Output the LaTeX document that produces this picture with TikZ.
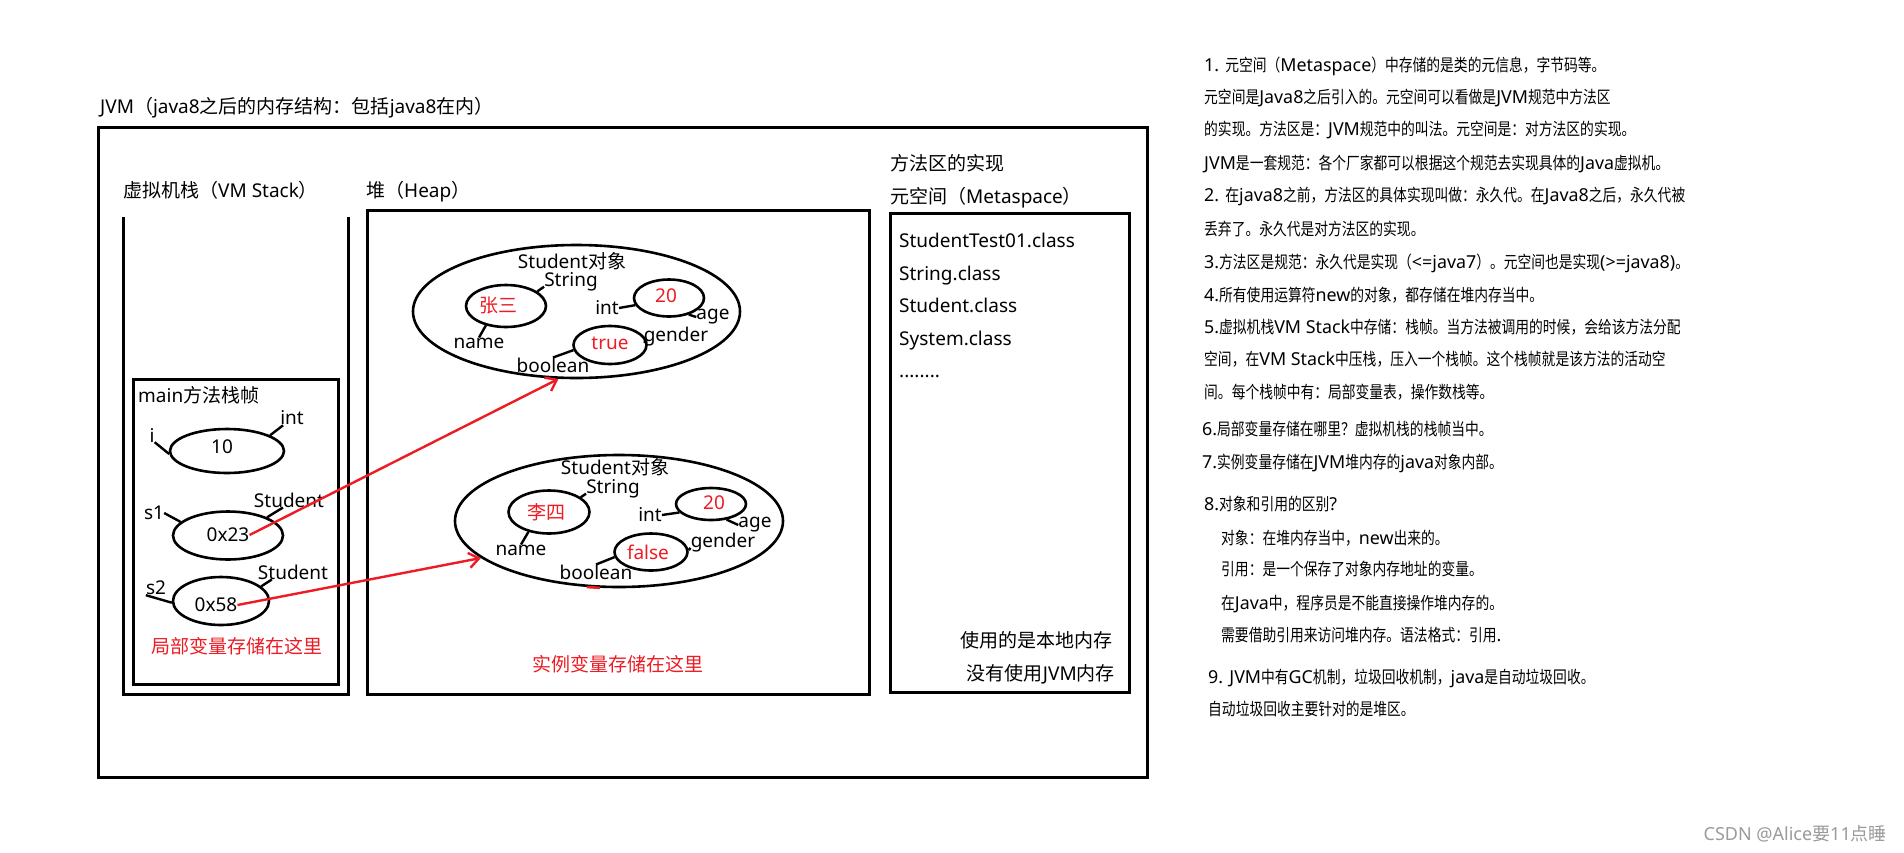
\documentclass[tikz,border=0pt]{standalone}
\usepackage{fontspec}
\setmainfont{Noto Sans}
\newfontfamily\latN{Noto Sans}
\newfontfamily\cjkN{Noto Sans CJK SC}
\newfontfamily\latR[Scale=1.05]{Noto Sans}
\newfontfamily\cjkR[FakeStretch=0.81]{Noto Sans CJK SC}
\def\curcjk{\cjkN}
\def\curlat{\latN}
\XeTeXinterchartokenstate=1
\newXeTeXintercharclass\CJKcls
\newcount\cjkcnt
\cjkcnt="3000
\loop\XeTeXcharclass\cjkcnt=\CJKcls\ifnum\cjkcnt<"303F\advance\cjkcnt by 1\repeat
\cjkcnt="4E00
\loop\XeTeXcharclass\cjkcnt=\CJKcls\ifnum\cjkcnt<"9FFF\advance\cjkcnt by 1\repeat
\cjkcnt="FF00
\loop\XeTeXcharclass\cjkcnt=\CJKcls\ifnum\cjkcnt<"FFEF\advance\cjkcnt by 1\repeat
\XeTeXinterchartoks 0 \CJKcls = {\curcjk}
\XeTeXinterchartoks 4095 \CJKcls = {\curcjk}
\XeTeXinterchartoks \CJKcls 0 = {\curlat}
\XeTeXinterchartoks 4095 0 = {\curlat}
\usetikzlibrary{shapes.geometric,arrows.meta}
\definecolor{pred}{RGB}{237,28,36}
\definecolor{wmgray}{RGB}{155,155,155}
\begin{document}
\begin{tikzpicture}[x=1pt,y=-1pt,
  lbl/.style={inner sep=0pt, font=\fontsize{19}{22}\selectfont},
  rlbl/.style={lbl, text=pred},
  frame/.style={draw, line width=3pt, inner sep=0pt},
  oval/.style={draw, ellipse, line width=2.6pt, inner sep=0pt},
  tick/.style={line width=2.4pt},
  ref/.style={draw=pred, line width=2.4pt, -{Straight Barb[length=10pt,width=15pt]}},
  note/.style={inner sep=0pt, anchor=base west, font={\fontsize{17}{20}\selectfont\def\curcjk{\cjkR}\def\curlat{\latR}\latR}},
]
\useasboundingbox[fill=white] (0,0) rectangle (1904,852);

% title
\node[lbl, anchor=base west] (title) at (100,113) {JVM（java8之后的内存结构：包括java8在内）};

% frames
\node[frame, minimum width=1049pt, minimum height=650pt] (jvm) at (622.5,452) {};
\draw[line width=3pt] (123,217) -- (123,694) -- (348,694) -- (348,217);
\node[frame, minimum width=205pt, minimum height=305pt] (mainf) at (235.5,531.5) {};
\node[frame, minimum width=502pt, minimum height=484pt] (heap) at (618,452) {};
\node[frame, minimum width=239pt, minimum height=479pt] (meta) at (1009.5,452.5) {};

\node[lbl, anchor=base west] (vmslbl) at (123,197) {虚拟机栈（VM Stack）};
\node[lbl, anchor=base west] (heaplbl) at (366,197) {堆（Heap）};
\node[lbl, anchor=west] (mainlbl) at (138,395) {main方法栈帧};

% stack variables
\node[oval, minimum width=114pt, minimum height=44pt] (ei) at (227,451) {};
\node[lbl] (v10) at (222,447) {10};
\node[lbl] (li) at (152,435) {i};
\node[lbl] (lint) at (292,418) {int};
\draw[tick] (li.south east) -- (ei.183);
\draw[tick] ([xshift=3pt]lint.south west) -- (ei.20);

\node[oval, minimum width=110pt, minimum height=48pt] (e1) at (228,535.5) {};
\node[lbl] (v23) at (228,535) {0x23};
\node[lbl] (ls1) at (154,513) {s1};
\node[lbl] (ls1t) at (289,500) {Student};
\draw[tick] (ls1.east) -- (e1.164);
\draw[tick] ([xshift=-6pt]ls1t.south) -- (e1.25);

\node[oval, minimum width=96pt, minimum height=48pt] (e2) at (221,601) {};
\node[lbl] (v58) at (216,605) {0x58};
\node[lbl] (ls2) at (156,588) {s2};
\node[lbl] (ls2t) at (293,572) {Student};
\draw[tick] (ls2.south west) -- (e2.182);
\draw[tick] ([xshift=14pt]ls2t.south west) -- (e2.20);

\node[rlbl] (loc) at (237,646) {局部变量存储在这里};

% heap object 1
\node[oval, minimum width=327pt, minimum height=133pt] (h1) at (576.5,311.5) {};
\node[lbl] (so1) at (572,261) {Student对象};
\node[lbl] (str1) at (571,282) {String};
\node[oval, minimum width=80pt, minimum height=42pt] (z1) at (506,306) {};
\node[rlbl] (vz1) at (498,306) {张三};
\node[lbl] (nm1) at (479,343) {name};
\node[oval, minimum width=70pt, minimum height=37pt] (t1) at (669,298) {};
\node[rlbl] (vt1) at (666,296) {20};
\node[lbl] (in1) at (607,308) {int};
\node[lbl] (ag1) at (713,317) {age};
\node[oval, minimum width=73pt, minimum height=38pt] (b1) at (610,345) {};
\node[rlbl] (vb1) at (610,343) {true};
\node[lbl] (gd1) at (676,337) {gender};
\node[lbl] (bo1) at (553,365) {boolean};
\draw[tick] (z1.25) -- (str1.base west);
\draw[tick] (nm1.north) -- (z1.-136);
\draw[tick] (in1.east) -- (t1.192);
\draw[tick] (ag1.west) -- (t1.-40);
\draw[tick] (gd1.base west) -- (b1.5);
\draw[tick] (bo1.north) -- (b1.188);

% heap object 2
\node[oval, minimum width=328pt, minimum height=132pt] (h2) at (619,521) {};
\node[lbl] (so2) at (615,467) {Student对象};
\node[lbl] (str2) at (613,489) {String};
\node[oval, minimum width=81pt, minimum height=43pt] (z2) at (549,512) {};
\node[rlbl] (vz2) at (546,512) {李四};
\node[lbl] (nm2) at (521,550) {name};
\node[oval, minimum width=70pt, minimum height=32pt] (t2) at (711,504) {};
\node[rlbl] (vt2) at (714,503) {20};
\node[lbl] (in2) at (650,515) {int};
\node[lbl] (ag2) at (755,525) {age};
\node[oval, minimum width=73pt, minimum height=37pt] (f2) at (651,552) {};
\node[rlbl] (vf2) at (648,552) {false};
\node[lbl] (gd2) at (723,543) {gender};
\node[lbl] (bo2) at (596,572) {boolean};
\draw[tick] (z2.25) -- (str2.base west);
\draw[tick] (nm2.north) -- (z2.-136);
\draw[tick] (in2.east) -- (t2.195);
\draw[tick] (ag2.west) -- (t2.-45);
\draw[tick] (gd2.base west) -- (f2.3);
\draw[tick] (bo2.north) -- (f2.188);
\draw[draw=pred, line width=2.6pt] (h2.-116) -- (h2.-106);

\node[rlbl] (inst) at (618,664) {实例变量存储在这里};

% metaspace
\node[lbl, anchor=base west] (ms0) at (890,170) {方法区的实现};
\node[lbl, anchor=base west] (ms1) at (890,203) {元空间（Metaspace）};
\node[lbl, anchor=base west] (c1) at (899,247.5) {StudentTest01.class};
\node[lbl, anchor=base west] (c2) at (899,280) {String.class};
\node[lbl, anchor=base west] (c3) at (899,312.5) {Student.class};
\node[lbl, anchor=base west] (c4) at (899,345) {System.class};
\node[lbl, anchor=base west] (c5) at (899,377.5) {........};
\node[lbl, anchor=base east] (m1) at (1113,647) {使用的是本地内存};
\node[lbl, anchor=base east] (m2) at (1115,680) {没有使用JVM内存};

% references
\draw[ref] (v23.east) -- (h1.-105);
\draw[ref] (v58.east) -- (h2.195);

% notes
\node[note] (r1) at (1204,71) {1. 元空间（Metaspace）中存储的是类的元信息，字节码等。};
\node[note] (r2) at (1204,103) {元空间是Java8之后引入的。元空间可以看做是JVM规范中方法区};
\node[note] (r3) at (1204,135) {的实现。方法区是：JVM规范中的叫法。元空间是：对方法区的实现。};
\node[note] (r4) at (1204,169) {JVM是一套规范：各个厂家都可以根据这个规范去实现具体的Java虚拟机。};
\node[note] (r5) at (1204,201) {2. 在java8之前，方法区的具体实现叫做：永久代。在Java8之后，永久代被};
\node[note] (r6) at (1204,235) {丢弃了。永久代是对方法区的实现。};
\node[note] (r7) at (1204,268) {3.方法区是规范：永久代是实现（<=java7）。元空间也是实现(>=java8)。};
\node[note] (r8) at (1204,301) {4.所有使用运算符new的对象，都存储在堆内存当中。};
\node[note] (r9) at (1204,333) {5.虚拟机栈VM Stack中存储：栈帧。当方法被调用的时候，会给该方法分配};
\node[note] (r10) at (1204,365) {空间，在VM Stack中压栈，压入一个栈帧。这个栈帧就是该方法的活动空};
\node[note] (r11) at (1204,398) {间。每个栈帧中有：局部变量表，操作数栈等。};
\node[note] (r12) at (1202,435) {6.局部变量存储在哪里？虚拟机栈的栈帧当中。};
\node[note] (r13) at (1202,468) {7.实例变量存储在JVM堆内存的java对象内部。};
\node[note] (r14) at (1204,510) {8.对象和引用的区别?};
\node[note] (r15) at (1221,544) {对象：在堆内存当中，new出来的。};
\node[note] (r16) at (1221,575) {引用：是一个保存了对象内存地址的变量。};
\node[note] (r17) at (1221,609) {在Java中，程序员是不能直接操作堆内存的。};
\node[note] (r18) at (1221,641) {需要借助引用来访问堆内存。语法格式：引用.};
\node[note] (r19) at (1208,683) {9. JVM中有GC机制，垃圾回收机制，java是自动垃圾回收。};
\node[note] (r20) at (1208,715) {自动垃圾回收主要针对的是堆区。};

\node[inner sep=0pt, anchor=base east, text=wmgray, font=\fontsize{18}{20}\selectfont] (wm) at (1887,840) {CSDN @Alice要11点睡};
\end{tikzpicture}
\end{document}
